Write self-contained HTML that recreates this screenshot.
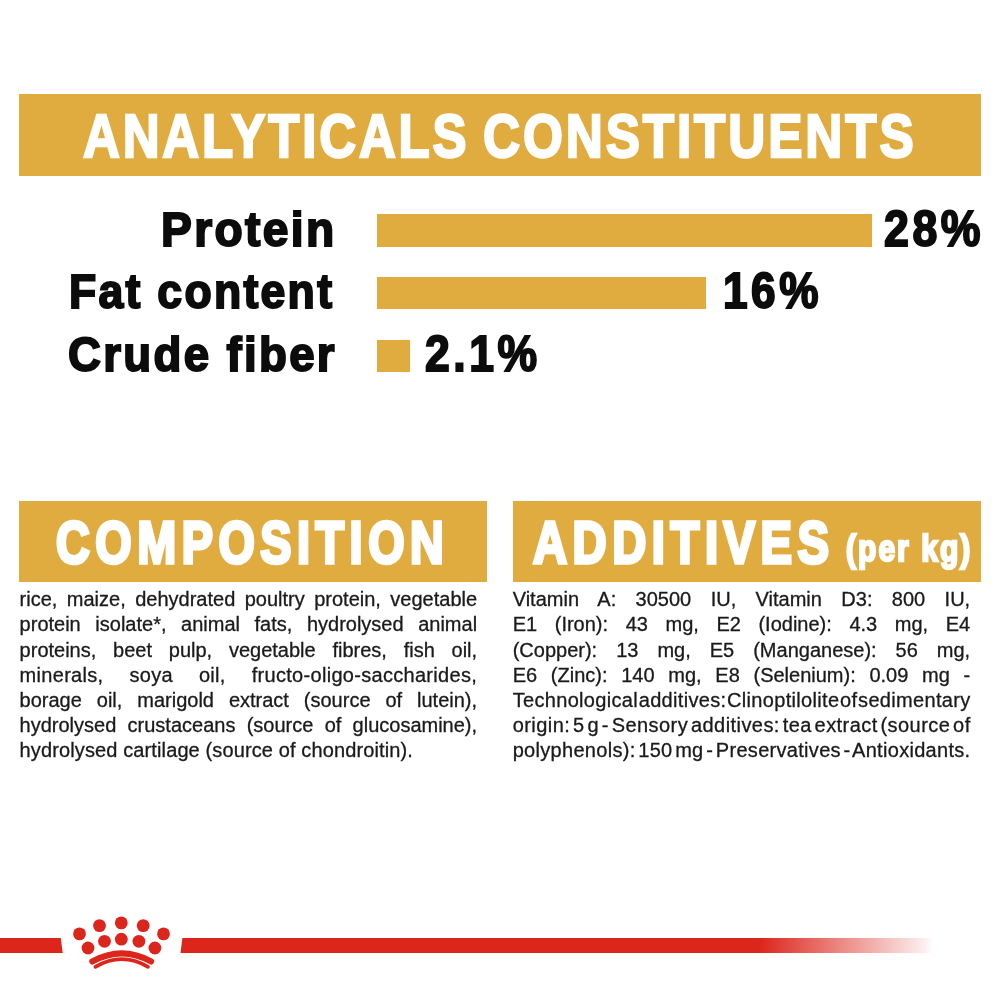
<!DOCTYPE html>
<html><head><meta charset="utf-8"><title>Analyticals constituents</title>
<style>
*{margin:0;padding:0;box-sizing:border-box}
html,body{width:1000px;height:1000px;overflow:hidden;background:#fff}
body{position:relative;font-family:"Liberation Sans",sans-serif;color:#111}
.abs{position:absolute}
.gold{background:#E0AC40}
.t{position:absolute;white-space:nowrap;line-height:1;transform-origin:0 0;font-weight:bold}
.h{color:#fff}
.lab{color:#0c0c0c}
.ln{position:absolute;width:457.5px;height:25px;line-height:25px;font-size:20px;white-space:nowrap;
 text-align:justify;text-align-last:justify;word-spacing:-4px;color:#1a1a1a;-webkit-text-stroke:0.3px #1a1a1a;transform-origin:0 0}
.ln.last{text-align:left;text-align-last:left;word-spacing:0}
</style></head>
<body>
<div class="abs gold" style="left:19px;top:94px;width:962px;height:81.5px"></div>
<div class="abs gold" style="left:377px;top:214px;width:494.5px;height:32.5px"></div>
<div class="abs gold" style="left:377px;top:277px;width:329px;height:32px"></div>
<div class="abs gold" style="left:377px;top:339.5px;width:33px;height:32px"></div>
<div class="abs gold" style="left:19px;top:501px;width:468px;height:81px"></div>
<div class="abs gold" style="left:512.5px;top:501px;width:468px;height:81px"></div>
<div class="t h" id="t1" style="left:83.00px;top:105.00px;font-size:62px;-webkit-text-stroke:2.4px #fff;letter-spacing:3.5px;transform:scaleX(0.8219)">ANALYTICALS</div>
<div class="t h" id="t2" style="left:483.06px;top:105.00px;font-size:62px;-webkit-text-stroke:2.4px #fff;letter-spacing:3.5px;transform:scaleX(0.8271)">CONSTITUENTS</div>
<div class="t lab" id="l1" style="left:160.95px;top:205.00px;font-size:49px;-webkit-text-stroke:2px #0c0c0c;letter-spacing:2.5px;transform:scaleX(0.9426)">Protein</div>
<div class="t lab" id="l2" style="left:69.01px;top:267.00px;font-size:49px;-webkit-text-stroke:2px #0c0c0c;letter-spacing:2.5px;transform:scaleX(0.9098)">Fat content</div>
<div class="t lab" id="l3" style="left:67.99px;top:330.00px;font-size:49px;-webkit-text-stroke:2px #0c0c0c;letter-spacing:2.5px;transform:scaleX(0.9309)">Crude fiber</div>
<div class="t lab" id="p1" style="left:884.04px;top:204.00px;font-size:50px;-webkit-text-stroke:2px #0c0c0c;letter-spacing:4px;transform:scaleX(0.8938)">28%</div>
<div class="t lab" id="p2" style="left:723.09px;top:266.00px;font-size:50px;-webkit-text-stroke:2px #0c0c0c;letter-spacing:4px;transform:scaleX(0.8834)">16%</div>
<div class="t lab" id="p3" style="left:425.03px;top:329.00px;font-size:50px;-webkit-text-stroke:2px #0c0c0c;letter-spacing:4px;transform:scaleX(0.8908)">2.1%</div>
<div class="t h" id="hc" style="left:56.09px;top:513.80px;font-size:59px;-webkit-text-stroke:3.6px #fff;letter-spacing:7px;transform:scaleX(0.7921)">COMPOSITION</div>
<div class="t h" id="ha" style="left:532.66px;top:513.80px;font-size:59px;-webkit-text-stroke:3.6px #fff;letter-spacing:7px;transform:scaleX(0.7986)">ADDITIVES</div>
<div class="t h" id="hp" style="left:845.51px;top:531.20px;font-size:36px;-webkit-text-stroke:2.5px #fff;letter-spacing:2.5px;transform:scaleX(0.8310)">(per kg)</div>
<div class="ln" id="c0" style="left:19.6px;top:587.20px">rice, maize, dehydrated poultry protein, vegetable</div>
<div class="ln" id="c1" style="left:19.6px;top:612.35px">protein isolate*, animal fats, hydrolysed animal</div>
<div class="ln" id="c2" style="left:19.6px;top:637.50px">proteins, beet pulp, vegetable fibres, fish oil,</div>
<div class="ln" id="c3" style="left:19.6px;top:662.65px;letter-spacing:0.3px">minerals, soya oil, fructo-oligo-saccharides,</div>
<div class="ln" id="c4" style="left:19.6px;top:687.80px">borage oil, marigold extract (source of lutein),</div>
<div class="ln" id="c5" style="left:19.6px;top:712.95px">hydrolysed crustaceans (source of glucosamine),</div>
<div class="ln last" id="c6" style="left:19.6px;top:738.10px;letter-spacing:0.12px">hydrolysed cartilage (source of chondroitin).</div>
<div class="ln" id="a0" style="left:512.7px;top:587.20px">Vitamin A: 30500 IU, Vitamin D3: 800 IU,</div>
<div class="ln" id="a1" style="left:512.7px;top:612.35px">E1 (Iron): 43 mg, E2 (Iodine): 4.3 mg, E4</div>
<div class="ln" id="a2" style="left:512.7px;top:637.50px">(Copper): 13 mg, E5 (Manganese): 56 mg,</div>
<div class="ln" id="a3" style="left:512.7px;top:662.65px">E6 (Zinc): 140 mg, E8 (Selenium): 0.09 mg -</div>
<div class="ln" id="a4" style="left:512.7px;top:687.80px;word-spacing:-5.2px;letter-spacing:0.320px;text-align:left;text-align-last:left">Technological additives: Clinoptilolite of sedimentary</div>
<div class="ln" id="a5" style="left:512.7px;top:712.95px;word-spacing:-3.2px;letter-spacing:0.442px;text-align:left;text-align-last:left">origin: 5 g - Sensory additives: tea extract (source of</div>
<div class="ln" id="a6" style="left:512.7px;top:738.10px;word-spacing:-3.2px;letter-spacing:0.301px;text-align:left;text-align-last:left">polyphenols): 150 mg - Preservatives - Antioxidants.</div>
<svg class="abs" style="left:0;top:900px" width="1000" height="100" viewBox="0 900 1000 100">
<defs><linearGradient id="fade" x1="0" x2="1" y1="0" y2="0"><stop offset="0" stop-color="#DC261C"/><stop offset="0.96" stop-color="#DC261C" stop-opacity="0.07"/><stop offset="1" stop-color="#DC261C" stop-opacity="0"/></linearGradient></defs>
<polygon points="0,938 60.8,938 62.7,953 0,953" fill="#DC261C"/>
<polygon points="182.4,938 760,938 760,953 180.5,953" fill="#DC261C"/>
<rect x="759.5" y="938" width="173" height="15" fill="url(#fade)"/>
<g fill="#DC261C">
<circle cx="79.5" cy="933.9" r="6.4"/><circle cx="99.5" cy="925.6" r="6.4"/><circle cx="121.3" cy="922.9" r="6.4"/><circle cx="143.2" cy="925.6" r="6.4"/><circle cx="163.5" cy="933.9" r="6.4"/>
<circle cx="88" cy="948" r="6.4"/><circle cx="104.5" cy="941.3" r="6.4"/><circle cx="121.3" cy="939.2" r="6.4"/><circle cx="138.9" cy="941.3" r="6.4"/><circle cx="154.9" cy="948" r="6.4"/>
</g>
<path d="M92.4,961.4 Q121.7,945.2 151,961.4" fill="none" stroke="#DC261C" stroke-width="6.2" stroke-linecap="round"/>
<path d="M95.4,966.8 Q121.7,951.4 148,966.8" fill="none" stroke="#DC261C" stroke-width="3.7" stroke-linecap="round"/>
</svg>
</body></html>
